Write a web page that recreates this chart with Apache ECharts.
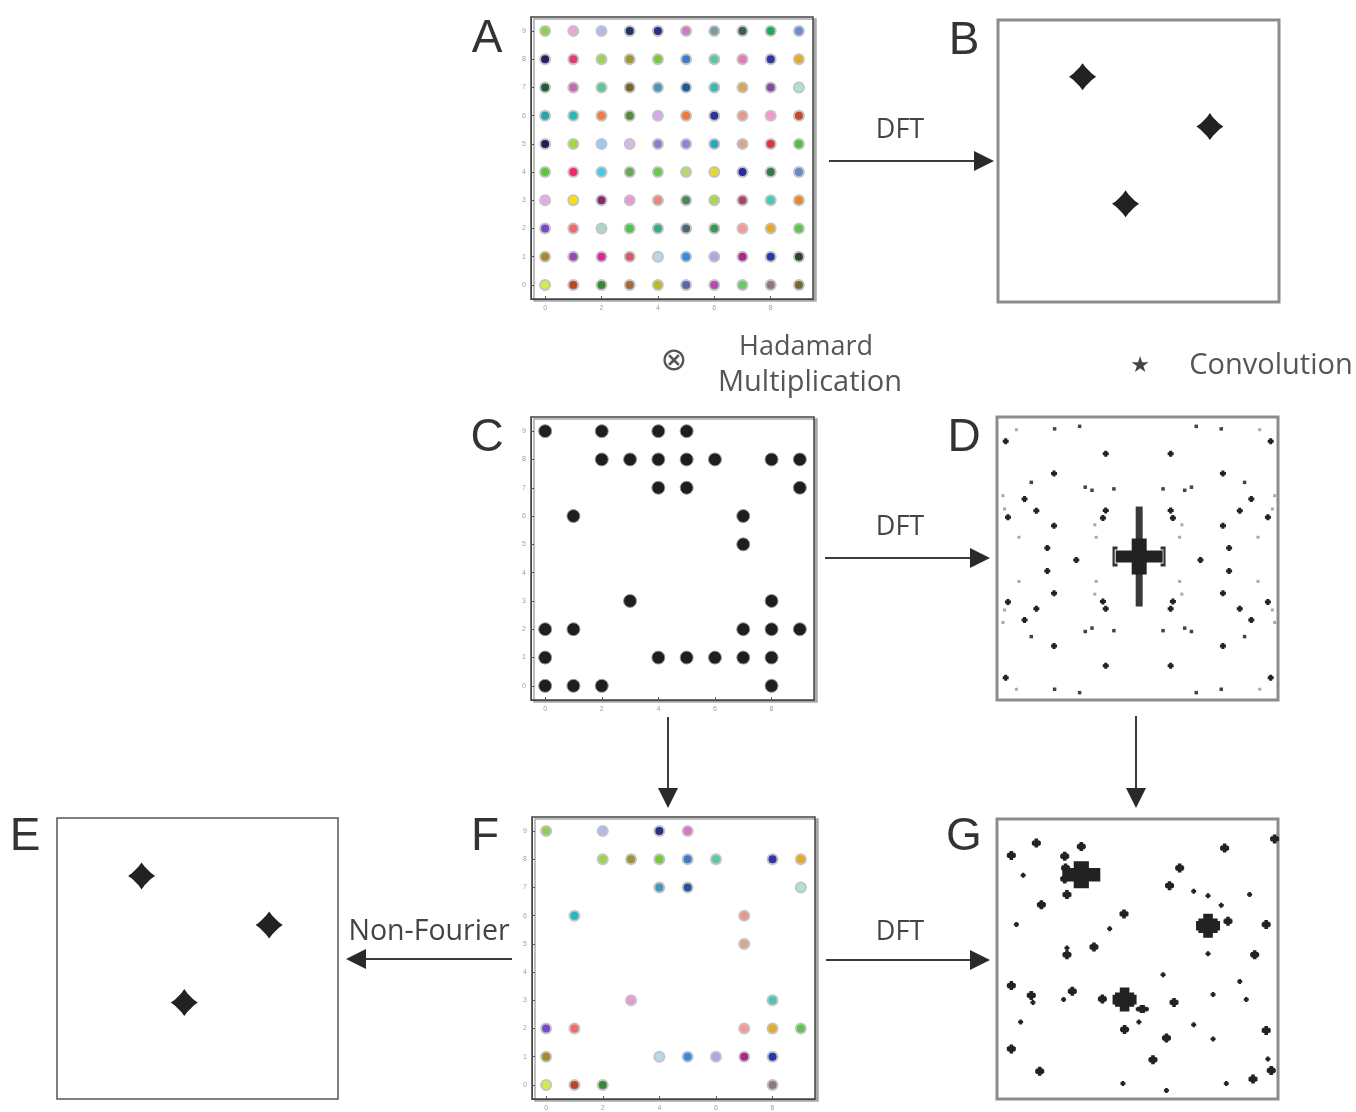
<!DOCTYPE html>
<html><head><meta charset="utf-8">
<script src="https://cdn.jsdelivr.net/npm/echarts@6/dist/echarts.min.js"></script>
<style>html,body{margin:0;padding:0;background:#fff}#c{width:1356px;height:1112px}</style>
</head><body><div id="c"></div>
<script>
// ---------- DATA ----------
const xTickValues = [0, 2, 4, 6, 8];
const yTickValues = [0, 1, 2, 3, 4, 5, 6, 7, 8, 9];
// colour of each sample, row 0 = y 9 (top) ... row 9 = y 0 (bottom); columns x = 0..9
const colorRows = [
  ['#8fd14f','#e8a8d8','#b0b8ee','#1f3366','#2b2f86','#d576c6','#7b9ca4','#3b5a58','#22a85a','#6a8ad8'],
  ['#222266','#e83a6a','#98d848','#a09434','#78c83a','#3a7ccc','#58c8a8','#e878b8','#3434a8','#e8a828'],
  ['#245a34','#c868b8','#58c898','#766428','#4898b8','#22589a','#38b8b8','#d8a858','#8848a8','#a8e8c8'],
  ['#22a8a8','#28b8b8','#f07a48','#588838','#d8a8e8','#f07838','#2a3498','#e89888','#f898c8','#c84828'],
  ['#281c58','#a8d838','#98c8f8','#d8b8e8','#9878c8','#8888d8','#28a8b8','#d8a888','#d83838','#58b848'],
  ['#58c838','#f02868','#48c8e8','#68a858','#68c848','#b8d868','#e8d828','#2c2c98','#387848','#6888c8'],
  ['#e8a8e8','#f8e008','#882868','#e898d8','#e88878','#488858','#a8d848','#a84868','#48c8b8','#e88828'],
  ['#7848c8','#f06868','#a8d8c8','#48c848','#38a888','#486878','#389858','#f89898','#e8a828','#58c848'],
  ['#a88828','#9848b8','#d82898','#d85868','#b8d8e8','#3888e8','#a8a8e8','#a82888','#2838a8','#284828'],
  ['#d8e848','#b84828','#388838','#a86838','#b8b828','#5868a8','#b848b8','#68c868','#887888','#786838']
];
// sampling mask, same row order as colorRows
const maskRows = [
  [1,0,1,0,1,1,0,0,0,0],
  [0,0,1,1,1,1,1,0,1,1],
  [0,0,0,0,1,1,0,0,0,1],
  [0,1,0,0,0,0,0,1,0,0],
  [0,0,0,0,0,0,0,1,0,0],
  [0,0,0,0,0,0,0,0,0,0],
  [0,0,0,1,0,0,0,0,1,0],
  [1,1,0,0,0,0,0,1,1,1],
  [1,0,0,0,1,1,1,1,1,0],
  [1,1,1,0,0,0,0,0,1,0]
];
// spectrum peaks (B) and non-Fourier reconstruction (E), 0..100 frame
const spectrumPeaks = [[30.1, 79.9], [75.4, 62.2], [45.4, 34.8]];
const reconPeaks = [[30.1, 79.4], [75.5, 61.9], [45.3, 34.3]];
// DFT of the mask (D) – point spread function
const psfCentre = [[50.6, 50.7]];
const psfBracketL = [[42.0, 50.7]];
const psfBracketR = [[59.1, 50.7]];
const psfStrong = [
  [3.1,91.4],[97.4,91.4],[3.1,7.9],[97.4,7.9],
  [38.7,87.0],[61.8,87.0],[38.7,12.1],[61.8,12.1],
  [20.3,80.0],[80.4,80.0],[20.3,19.1],[80.4,19.1],
  [9.8,71.0],[90.5,71.0],[9.8,28.3],[90.5,28.3],
  [14.0,66.9],[86.4,66.9],[14.0,32.2],[86.4,32.2],
  [3.9,64.6],[96.4,64.6],[3.9,34.6],[96.4,34.6],
  [38.7,67.0],[61.8,67.0],[38.7,32.2],[61.8,32.2],
  [37.7,64.3],[62.6,64.3],[37.7,34.8],[62.6,34.8],
  [20.3,61.6],[80.4,61.6],[20.3,37.7],[80.4,37.7],
  [17.9,53.7],[82.6,53.7],[17.9,45.6],[82.6,45.6],
  [28.2,49.5],[72.4,49.5]
];
const psfSmall = [
  [20.5,95.8],[79.8,95.8],[20.5,3.8],[79.8,3.8],
  [29.4,96.7],[70.9,96.7],[29.4,2.6],[70.9,2.6],
  [12.2,76.9],[88.1,76.9],[12.2,22.4],[88.1,22.4],
  [31.4,75.2],[69.2,75.2],[31.4,24.2],[69.2,24.2],
  [33.8,74.1],[66.8,74.1],[33.8,25.4],[66.8,25.4],
  [41.6,74.6],[59.1,74.6],[41.6,24.5],[59.1,24.5]
];
const psfFaint = [
  [6.9,95.5],[93.5,95.5],[6.9,3.8],[93.5,3.8],
  [2.1,72.2],[98.8,72.2],[2.1,27.4],[98.8,27.4],
  [2.7,67.5],[98.0,67.5],[2.7,31.8],[98.0,31.8],
  [34.8,61.9],[65.8,61.9],[34.8,37.4],[65.8,37.4],
  [7.8,57.5],[92.9,57.5],[7.8,41.9],[92.9,41.9],
  [35.3,57.5],[65.0,57.5],[35.3,41.9],[65.0,41.9]
];
// DFT of sampled data (G)
const gMainCross = [[30.0, 80.1]];
const gMainBlobs = [[75.1, 61.9], [45.4, 35.5]];
const gSideBlob = [[51.7, 32.1]];
const gMedium = [
  [14.0,91.4],[5.1,87.0],[30.0,90.2],[24.1,86.7],[24.1,78.6],[24.9,73.0],[15.8,69.4],
  [82.2,63.5],[95.8,62.3],[91.7,51.5],[45.4,24.8],[60.3,21.8],[55.5,14.0],[5.1,17.9],
  [12.2,37.0],[63.0,34.5],[81.0,89.6],[65.0,82.5],[61.4,76.2],[26.8,38.5],[5.1,40.5],
  [45.2,66.1],[95.8,24.5],[97.6,10.2],[91.1,7.1],[15.2,9.9],[98.8,92.9],[37.5,35.7],
  [34.5,54.3],[24.4,82.5],[24.9,51.5]
];
const gSmall = [
  [9.3,79.9],[6.9,62.3],[40.1,60.8],[24.9,53.9],[70.0,74.2],[75.1,72.6],[89.9,73.0],
  [79.8,69.2],[75.1,51.9],[59.1,44.4],[86.4,42.0],[12.8,34.5],[23.7,35.5],[76.9,37.3],
  [88.7,35.5],[8.4,27.5],[50.5,27.5],[70.0,26.5],[76.9,21.4],[96.4,14.3],[44.8,5.5],
  [60.3,3.0],[81.6,5.5]
];

// ---------- BUILD ----------
const fullData = [], maskData = [], sampledData = [];
colorRows.forEach((row, r) => row.forEach((col, x) => {
  const y = 9 - r;
  fullData.push({ value: [x, y], itemStyle: { color: col } });
  if (maskRows[r][x]) {
    maskData.push([x, y]);
    sampledData.push({ value: [x, y], itemStyle: { color: col } });
  }
}));

const STAR = 'path://M0,-10 L2.2,-7 L7,-2.2 L10,0 L7,2.2 L2.2,7 L0,10 L-2.2,7 L-7,2.2 L-10,0 L-7,-2.2 L-2.2,-7 Z';
const PLUS = 'path://M-1,-2H1V-1H2V1H1V2H-1V1H-2V-1H-1Z';
const BIGCROSS = 'path://M-2,-4H2V-2H5V2H2V4H-2V2H-5V-2H-2Z';
const BLOB = 'path://M-2,-5H2V-3H4V-2H5V2H4V3H2V5H-2V3H-4V2H-5V-2H-4V-3H-2Z';
const BRACKET_L = 'path://M0,0H3V1.5H1.3V8.5H3V10H0Z';
const BRACKET_R = 'path://M0,0H3V10H0V8.5H1.7V1.5H0Z';

const gridDefs = [
  { left: 531, top: 17, width: 282, height: 282, kind: 'dots' },   // A
  { left: 998, top: 20, width: 281, height: 282, kind: 'plain' },  // B
  { left: 531, top: 417, width: 283, height: 283, kind: 'dots' },  // C
  { left: 997, top: 417, width: 281, height: 283, kind: 'plain' }, // D
  { left: 57, top: 818, width: 281, height: 281, kind: 'thin' },   // E
  { left: 532, top: 817, width: 283, height: 283, kind: 'dots' },  // F
  { left: 997, top: 819, width: 281, height: 280, kind: 'plain' }  // G
];

const grids = gridDefs.map(g => {
  const base = { left: g.left, top: g.top, width: g.width, height: g.height, show: true, backgroundColor: '#fff' };
  if (g.kind === 'dots') return Object.assign(base, { borderColor: '#444', borderWidth: 1.5, shadowColor: '#a8a8a8', shadowOffsetX: 3, shadowOffsetY: 2, shadowBlur: 0 });
  if (g.kind === 'plain') return Object.assign(base, { borderColor: '#8c8c8c', borderWidth: 3 });
  return Object.assign(base, { borderColor: '#555', borderWidth: 1.5 });
});

const xAxes = [], yAxes = [];
gridDefs.forEach((g, i) => {
  if (g.kind === 'dots') {
    const common = { gridIndex: i, type: 'value', min: -0.5, max: 9.5,
      axisLine: { show: true, onZero: false, lineStyle: { color: '#444', width: 1 } },
      splitLine: { show: false } };
    xAxes.push(Object.assign({}, common, {
      axisTick: { show: true, inside: true, length: 3, customValues: xTickValues, lineStyle: { color: '#555' } },
      axisLabel: { show: true, customValues: xTickValues, fontSize: 7, color: '#a0a0a0', margin: 6, fontFamily: 'Liberation Sans' }
    }));
    yAxes.push(Object.assign({}, common, {
      axisTick: { show: true, inside: true, length: 3, customValues: yTickValues, lineStyle: { color: '#555' } },
      axisLabel: { show: true, customValues: yTickValues, fontSize: 7, color: '#a0a0a0', margin: 5, fontFamily: 'Liberation Sans' }
    }));
  } else {
    xAxes.push({ gridIndex: i, type: 'value', min: 0, max: 100, show: false });
    yAxes.push({ gridIndex: i, type: 'value', min: 0, max: 100, show: false });
  }
});

function sc(idx, data, opts) {
  const s = Object.assign({ type: 'scatter', xAxisIndex: idx, yAxisIndex: idx, data: data, silent: true, animation: false }, opts);
  s.itemStyle = Object.assign({ opacity: 1 }, s.itemStyle || {});
  return s;
}
const DARK = '#222';
const series = [
  sc(0, fullData, { symbol: 'circle', symbolSize: 10, itemStyle: { borderColor: '#c4c4c4', borderWidth: 2 } }),
  sc(1, spectrumPeaks, { symbol: STAR, symbolSize: 27, itemStyle: { color: DARK } }),
  sc(2, maskData, { symbol: 'circle', symbolSize: 13, itemStyle: { color: '#1e1e1e', borderColor: '#9a9a9a', borderWidth: 1 } }),
  // D
  sc(3, psfFaint, { symbol: 'rect', symbolSize: 3, itemStyle: { color: '#a8a8a8' } }),
  sc(3, psfSmall, { symbol: 'rect', symbolSize: 3.5, itemStyle: { color: '#444' } }),
  sc(3, psfStrong, { symbol: PLUS, symbolSize: 6, itemStyle: { color: DARK } }),
  sc(3, psfBracketL, { symbol: BRACKET_L, symbolSize: [5, 20], itemStyle: { color: '#333' } }),
  sc(3, psfBracketR, { symbol: BRACKET_R, symbolSize: [5, 20], itemStyle: { color: '#333' } }),
  sc(3, psfCentre, { symbol: 'rect', symbolSize: [7, 100], itemStyle: { color: '#3a3a3a' } }),
  sc(3, psfCentre, { symbol: 'rect', symbolSize: [47, 12], itemStyle: { color: DARK } }),
  sc(3, psfCentre, { symbol: 'rect', symbolSize: [15, 36], itemStyle: { color: DARK } }),
  sc(4, reconPeaks, { symbol: STAR, symbolSize: 27, itemStyle: { color: DARK } }),
  sc(5, sampledData, { symbol: 'circle', symbolSize: 10, itemStyle: { borderColor: '#c4c4c4', borderWidth: 2 } }),
  // G
  sc(6, gSmall, { symbol: PLUS, symbolSize: 5, itemStyle: { color: DARK } }),
  sc(6, gMedium, { symbol: BLOB, symbolSize: 9, itemStyle: { color: DARK } }),
  sc(6, gSideBlob, { symbol: BLOB, symbolSize: [13, 8], itemStyle: { color: DARK } }),
  sc(6, gMainBlobs, { symbol: BLOB, symbolSize: 24, itemStyle: { color: DARK } }),
  sc(6, gMainCross, { symbol: BIGCROSS, symbolSize: [38, 27], itemStyle: { color: DARK } })
];

// ---------- ANNOTATIONS ----------
const graphics = [];
function label(text, x, y, size, family, color) {
  graphics.push({ type: 'text', x: x, y: y, silent: true,
    style: { text: text, fontSize: size, fontFamily: family, fill: color, align: 'center', verticalAlign: 'middle' } });
}
function arrow(x1, y1, x2, y2) {
  const len = 20, hw = 10;
  const dx = x2 - x1, dy = y2 - y1, d = Math.hypot(dx, dy);
  const ux = dx / d, uy = dy / d;
  const bx = x2 - ux * len, by = y2 - uy * len;
  graphics.push({ type: 'line', silent: true, shape: { x1: x1, y1: y1, x2: bx, y2: by }, style: { stroke: '#3c3c3c', lineWidth: 2 } });
  graphics.push({ type: 'polygon', silent: true,
    shape: { points: [[x2, y2], [bx - uy * hw, by + ux * hw], [bx + uy * hw, by - ux * hw]] },
    style: { fill: '#2a2a2a' } });
}
const LF = 'Liberation Sans', OF = 'Open Sans';
label('A', 487, 39, 46, LF, '#333');
label('B', 964, 41, 46, LF, '#333');
label('C', 487, 438, 46, LF, '#333');
label('D', 964, 438, 46, LF, '#333');
label('E', 25, 837, 46, LF, '#333');
label('F', 485, 837, 46, LF, '#333');
label('G', 964, 837, 46, LF, '#333');
label('DFT', 900, 130, 27, OF, '#444');
label('DFT', 900, 527, 27, OF, '#444');
label('DFT', 900, 932, 27, OF, '#444');
label('Non-Fourier', 429, 932, 28.5, OF, '#444');
label('Hadamard', 806, 347, 27, OF, '#555');
label('Multiplication', 810, 383, 29, OF, '#555');
label('\u2297', 674, 362, 32, 'DejaVu Sans', '#555');
label('\u2605', 1140, 366, 22, 'DejaVu Sans', '#444');
label('Convolution', 1271, 366, 29, OF, '#555');
arrow(829, 161, 994, 161);
arrow(825, 558, 990, 558);
arrow(826, 960, 990, 960);
arrow(512, 959, 346, 959);
arrow(668, 717, 668, 808);
arrow(1136, 716, 1136, 808);

const chart = echarts.init(document.getElementById('c'), null, { renderer: 'canvas' });
chart.setOption({
  animation: false,
  backgroundColor: '#fff',
  grid: grids,
  xAxis: xAxes,
  yAxis: yAxes,
  series: series,
  graphic: graphics
});
</script></body></html>
